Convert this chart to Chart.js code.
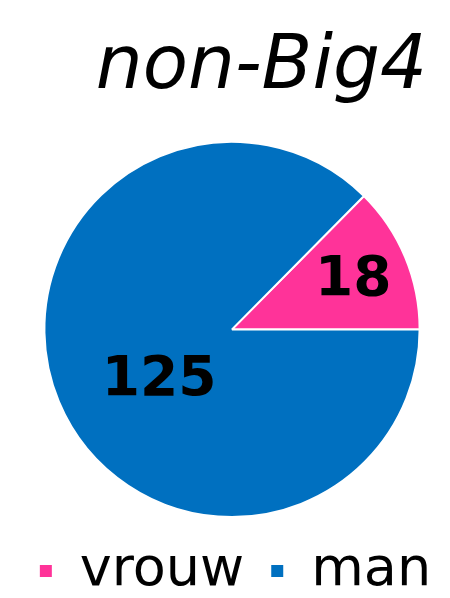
<!DOCTYPE html>
<html>
<head>
<meta charset="utf-8">
<script src="https://cdn.jsdelivr.net/npm/chart.js@4/dist/chart.umd.min.js"></script>
<style>
  html, body { margin: 0; padding: 0; background: #fff; }
  #wrap { width: 450px; height: 598px; }
</style>
</head>
<body>
<div id="wrap"><canvas id="chart"></canvas></div>
<script>
const labels = ['vrouw', 'man'];
const counts = [18, 125];
const colors = ['#FF3399', '#0070C0'];

// where each value label sits: fraction of radius, angle shift (deg) from slice middle
const labelSpots = [
    { f: 0.70, shift: 0 },
    { f: 0.47, shift: -11.7 },
];

/* ── layout nudges + value labels inside slices ── */
const sliceLabels = {
    id: 'sliceLabels',
    afterLayout(chart) {
        // title right-aligned a bit in from the edge, pie centred slightly right of middle
        if (chart.titleBlock) chart.titleBlock.right = 427;
        chart.chartArea.left += 14;
        if (chart.legend) { chart.legend.left += 10; chart.legend.right += 10; }
    },
    afterDatasetsDraw(chart) {
        const ctx = chart.ctx;
        const meta = chart.getDatasetMeta(0);
        ctx.save();
        ctx.font = 'bold 55px "DejaVu Sans"';
        ctx.fillStyle = '#000';
        ctx.textAlign = 'center';
        ctx.textBaseline = 'middle';
        meta.data.forEach((arc, i) => {
            const { x, y, startAngle, endAngle, outerRadius } = arc.getProps(['x', 'y', 'startAngle', 'endAngle', 'outerRadius'], true);
            const spot = labelSpots[i];
            const a = (startAngle + endAngle) / 2 + spot.shift * Math.PI / 180;
            const r = outerRadius * spot.f;
            ctx.fillText(String(counts[i]), x + Math.cos(a) * r, y + Math.sin(a) * r + 2);
        });
        ctx.restore();
    }
};

const total = counts.reduce((a, b) => a + b, 0);

new Chart(document.getElementById('chart'), {
    type: 'pie',
    data: {
        labels,
        datasets: [{
            data: counts,
            backgroundColor: colors,
            borderColor: '#fff',
            borderWidth: 2,
        }]
    },
    options: {
        responsive: true, maintainAspectRatio: false,
        animation: false,
        rotation: 90 - 360 * counts[0] / total,
        layout: { padding: { left: 0, right: 0, top: 0, bottom: -10 } },
        plugins: {
            title: {
                display: true,
                text: 'non-Big4',
                align: 'end',
                color: '#000',
                font: { family: '"DejaVu Sans"', size: 74, style: 'italic', weight: 'normal' },
                padding: { top: 24, bottom: 28 },
            },
            legend: {
                position: 'bottom',
                labels: {
                    color: '#000',
                    font: { family: '"DejaVu Sans"', size: 54 },
                    boxWidth: 14,
                    boxHeight: 14,
                    padding: 26,
                }
            },
            tooltip: { enabled: false }
        }
    },
    plugins: [sliceLabels]
});
</script>
</body>
</html>
